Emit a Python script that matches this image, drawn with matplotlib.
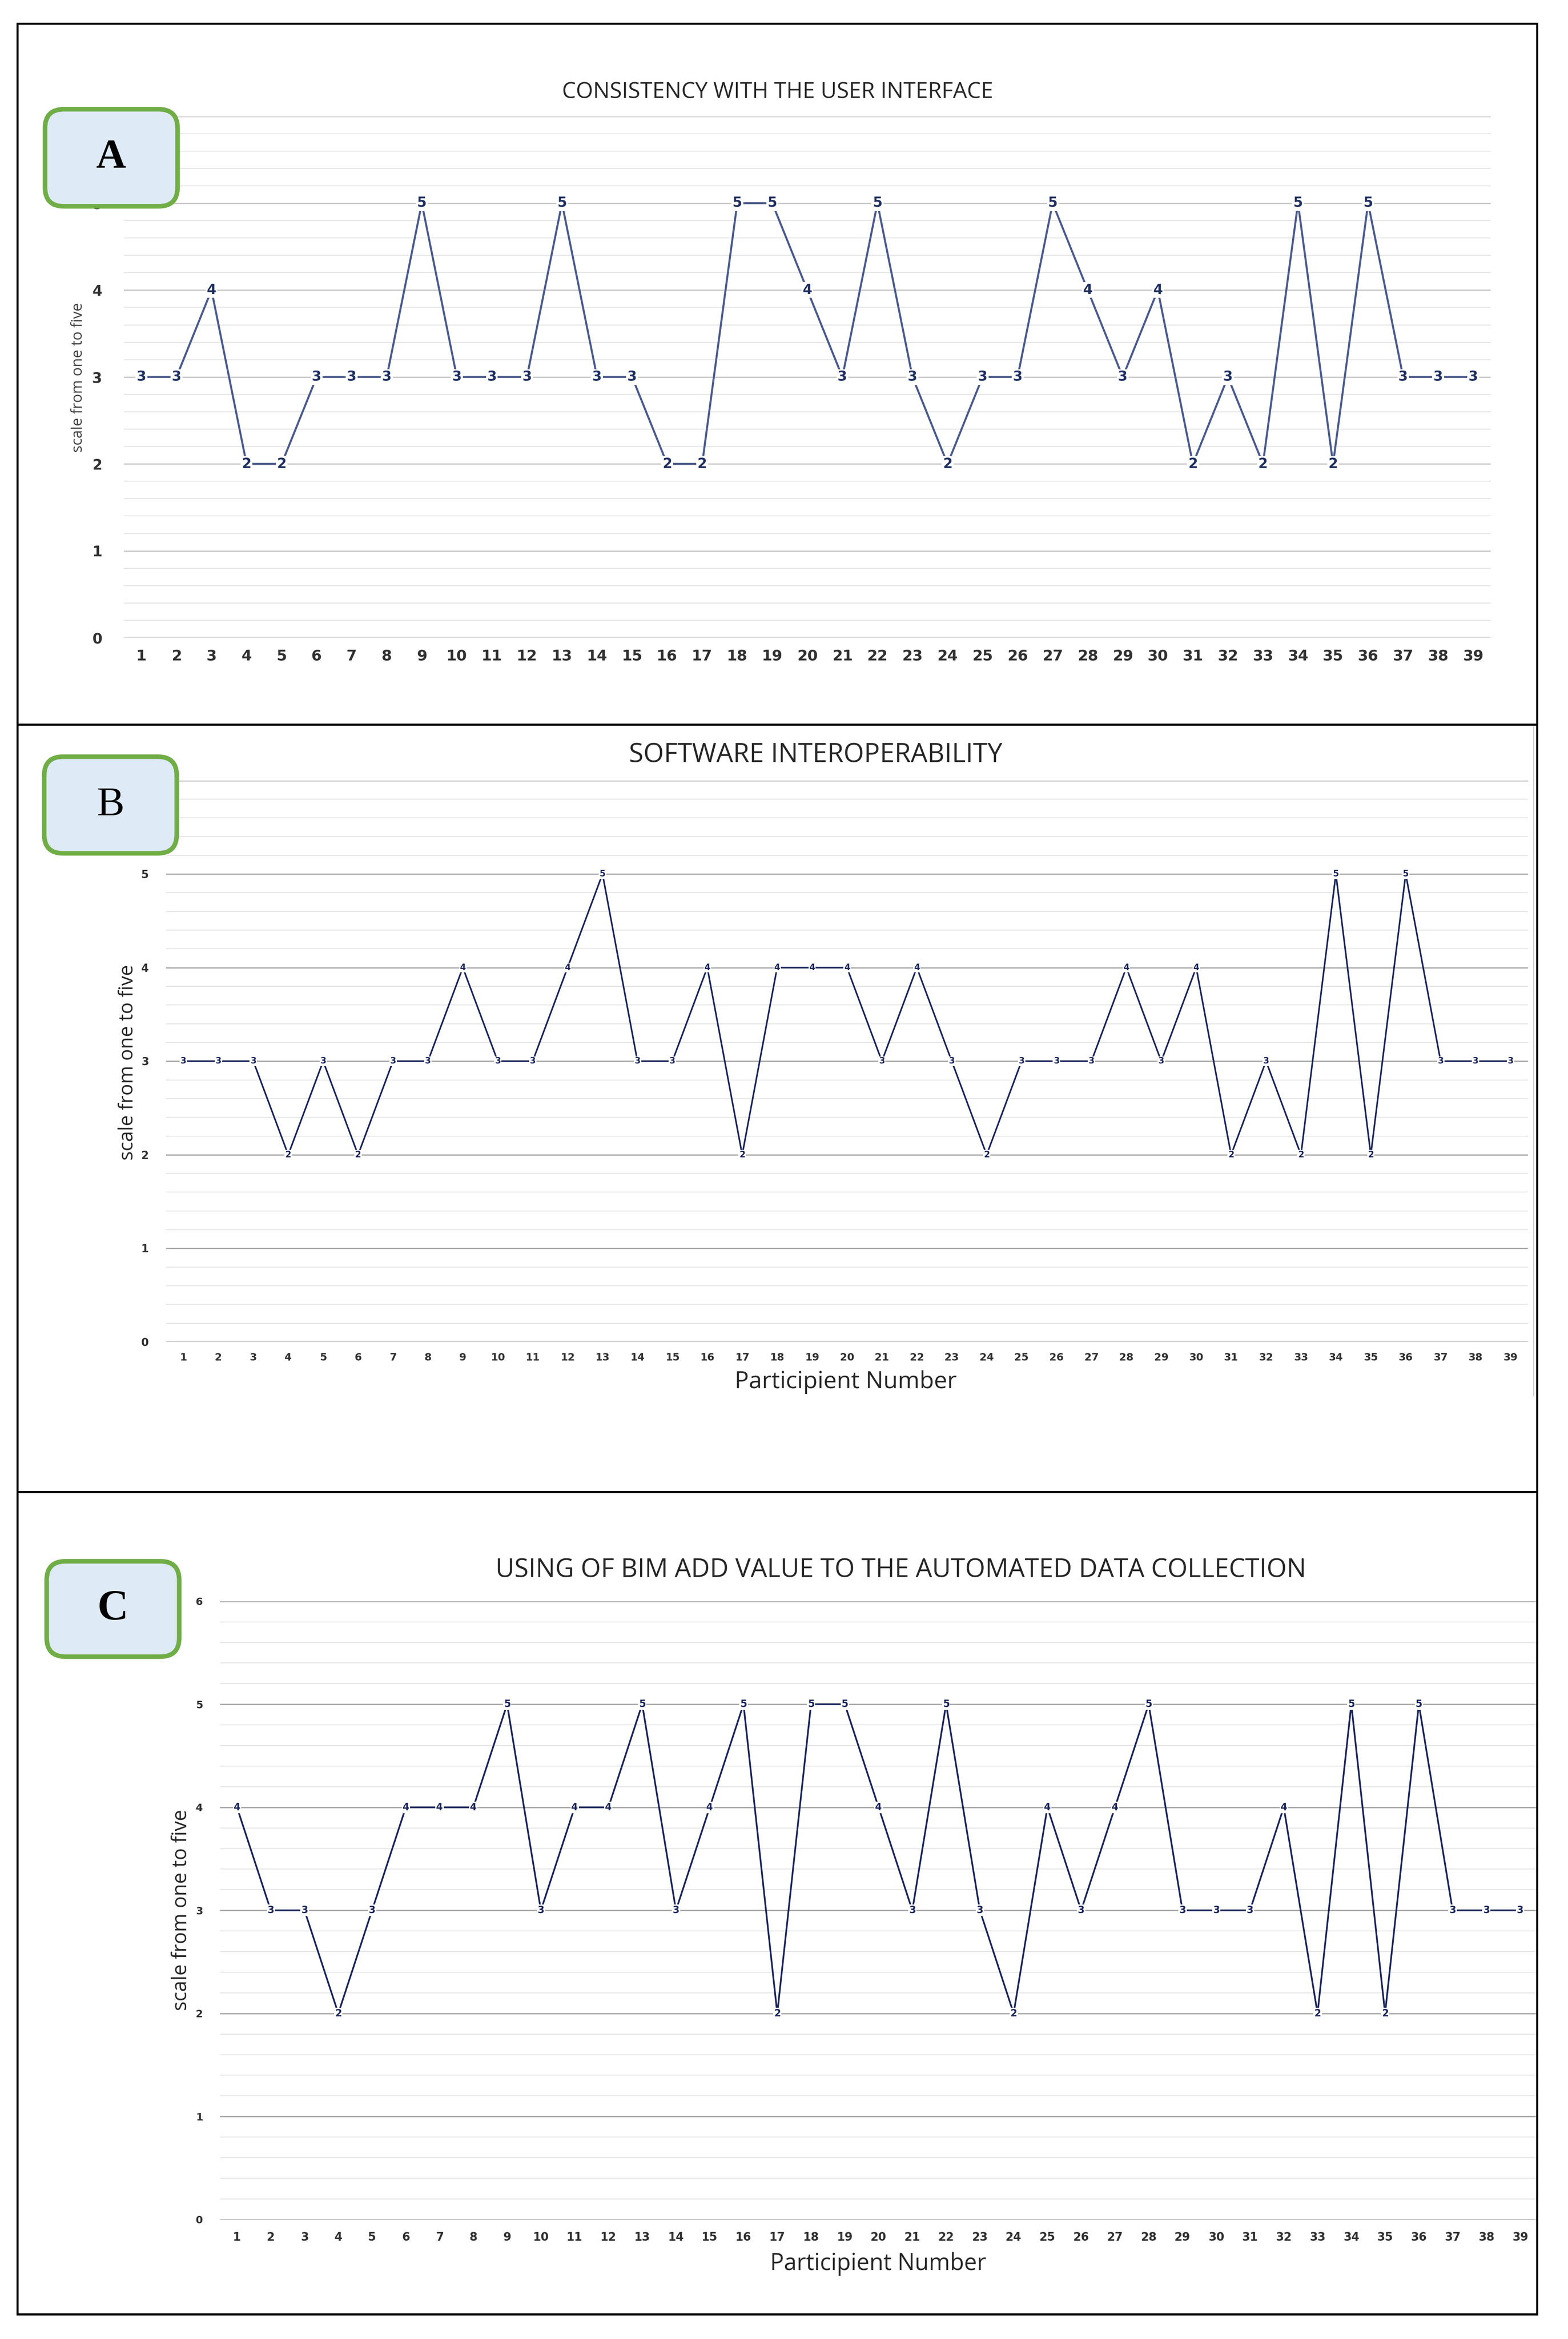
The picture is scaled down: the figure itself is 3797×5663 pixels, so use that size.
import numpy as np
import matplotlib
matplotlib.use("Agg")
from matplotlib import pyplot as plt
from matplotlib.patches import Rectangle, FancyBboxPatch
from matplotlib.lines import Line2D
from matplotlib.ticker import MultipleLocator

W, H = 3798, 5663

participants = list(range(1, 40))
consistency = [3, 3, 4, 2, 2, 3, 3, 3, 5, 3, 3, 3, 5, 3, 3, 2, 2, 5, 5, 4,
               3, 5, 3, 2, 3, 3, 5, 4, 3, 4, 2, 3, 2, 5, 2, 5, 3, 3, 3]
interop = [3, 3, 3, 2, 3, 2, 3, 3, 4, 3, 3, 4, 5, 3, 3, 4, 2, 4, 4, 4,
           3, 4, 3, 2, 3, 3, 3, 4, 3, 4, 2, 3, 2, 5, 2, 5, 3, 3, 3]
bim_value = [4, 3, 3, 2, 3, 4, 4, 4, 5, 3, 4, 4, 5, 3, 4, 5, 2, 5, 5, 4,
             3, 5, 3, 2, 4, 3, 4, 5, 3, 3, 3, 4, 2, 5, 2, 5, 3, 3, 3]

titles = ["CONSISTENCY WITH THE USER INTERFACE",
          "SOFTWARE INTEROPERABILITY",
          "USING OF BIM ADD VALUE TO THE AUTOMATED DATA COLLECTION"]
ylabel = "scale from one to five"
xlabel = "Participient Number"

plt.rcParams['font.family'] = ['Open Sans', 'DejaVu Sans']

fig = plt.figure(figsize=(W / 100, H / 100), dpi=100)


def fx(x):
    return x / W


def fy(y):
    return 1 - y / H


def make_axes(left, top, right, bottom):
    return fig.add_axes([fx(left), fy(bottom), fx(right) - fx(left), fy(top) - fy(bottom)])


def style(ax, major_c, xt_size, yt_size, xpad, ypad):
    ax.set_xlim(0.5, 39.5)
    ax.set_ylim(0, 6)
    ax.yaxis.set_major_locator(MultipleLocator(1))
    ax.yaxis.set_minor_locator(MultipleLocator(0.2))
    ax.set_xticks(participants)
    ax.grid(axis='y', which='major', color=major_c, linewidth=2.2, zorder=0)
    ax.grid(axis='y', which='minor', color='#E4E4E4', linewidth=1.6, zorder=0)
    for s in ax.spines.values():
        s.set_visible(False)
    ax.tick_params(axis='both', which='both', length=0)
    ax.tick_params(axis='x', labelsize=xt_size, pad=xpad, labelcolor='#303030')
    ax.tick_params(axis='y', labelsize=yt_size, pad=ypad, labelcolor='#303030')
    for lab in ax.get_xticklabels() + ax.get_yticklabels():
        lab.set_fontweight('bold')
        lab.set_family('DejaVu Sans')
    ax.set_axisbelow(True)


def draw_series(ax, vals, color, lw, lab_size, lab_color):
    ax.plot(participants, vals, color=color, linewidth=lw, zorder=2)
    for x, v in zip(participants, vals):
        ax.text(x, v, str(v), ha='center', va='center', fontsize=lab_size,
                fontweight='bold', family='DejaVu Sans', color=lab_color, zorder=3,
                bbox=dict(boxstyle='square,pad=0.08', fc='white', ec='none'))


# panel A
axA = make_axes(300, 281.5, 3610, 1544)
style(axA, '#C8C8C8', 26, 25, 20, 38)
draw_series(axA, consistency, '#4A5A8C', 3.5, 24, '#1F2F5F')

# panel B
axB = make_axes(402, 1889.5, 3700, 3249)
style(axB, '#A8A8A8', 18, 19, 19, 30)
draw_series(axB, interop, '#1A2559', 2.8, 15, '#1A2559')

# panel C
axC = make_axes(533, 3876.7, 3722, 5373.7)
style(axC, '#A8A8A8', 20, 18, 21, 30)
draw_series(axC, bim_value, '#1A2559', 3.0, 17, '#1A2559')

# titles
fig.text(fx(1883), fy(224), titles[0], ha='center', va='center', fontsize=38.5,
         fontweight='medium', color='#262626')
fig.text(fx(1975), fy(1828), titles[1], ha='center', va='center', fontsize=46, color='#262626')
fig.text(fx(2182), fy(3802), titles[2], ha='center', va='center', fontsize=45, color='#262626')

# axis labels
fig.text(fx(190), fy(914), ylabel, rotation=90, ha='center', va='center', fontsize=26, color='#404040')
fig.text(fx(309), fy(2572), ylabel, rotation=90, ha='center', va='center', fontsize=34, color='#262626')
fig.text(fx(439), fy(4625), ylabel, rotation=90, ha='center', va='center', fontsize=35, color='#262626')
fig.text(fx(2048), fy(3346), xlabel, ha='center', va='center', fontsize=41, color='#262626')
fig.text(fx(2127), fy(5481), xlabel, ha='center', va='center', fontsize=40, color='#262626')

# frame around the figure and dividers
fig.add_artist(Rectangle((fx(42), fy(5603)), fx(3722) - fx(42), fy(57) - fy(5603),
                         transform=fig.transFigure, fill=False, ec='black', lw=3.6, zorder=5))
for yy in [1754, 3612]:
    fig.add_artist(Line2D([fx(42), fx(3722)], [fy(yy), fy(yy)], transform=fig.transFigure,
                          color='black', lw=3.6, zorder=5))
fig.add_artist(Line2D([fx(3714), fx(3714)], [fy(1760), fy(3379)], transform=fig.transFigure,
                      color='#C0C0C0', lw=1.5, zorder=4))

# panel letters
boxes = [(109, 264.5, 430, 499.5, 'A', 'bold', 72),
         (107, 1832, 428, 2066, 'B', 'normal', 72),
         (113, 3780, 434, 4011, 'C', 'bold', 75)]
for x0, y0, x1, y1, letter, wt, fs in boxes:
    fig.add_artist(FancyBboxPatch((fx(x0), fy(y1)), fx(x1) - fx(x0), fy(y0) - fy(y1),
                                  boxstyle='round,pad=0,rounding_size=0.012',
                                  transform=fig.transFigure, fc='#DEEAF6', ec='#70AD47',
                                  lw=8, zorder=6, mutation_aspect=W / H))
    fig.text(fx((x0 + x1) / 2), fy((y0 + y1) / 2), letter, ha='center', va='center',
             fontsize=fs, fontweight=wt, family='Liberation Serif', color='black', zorder=7)

fig.savefig('out.png', dpi=100, facecolor='white')
